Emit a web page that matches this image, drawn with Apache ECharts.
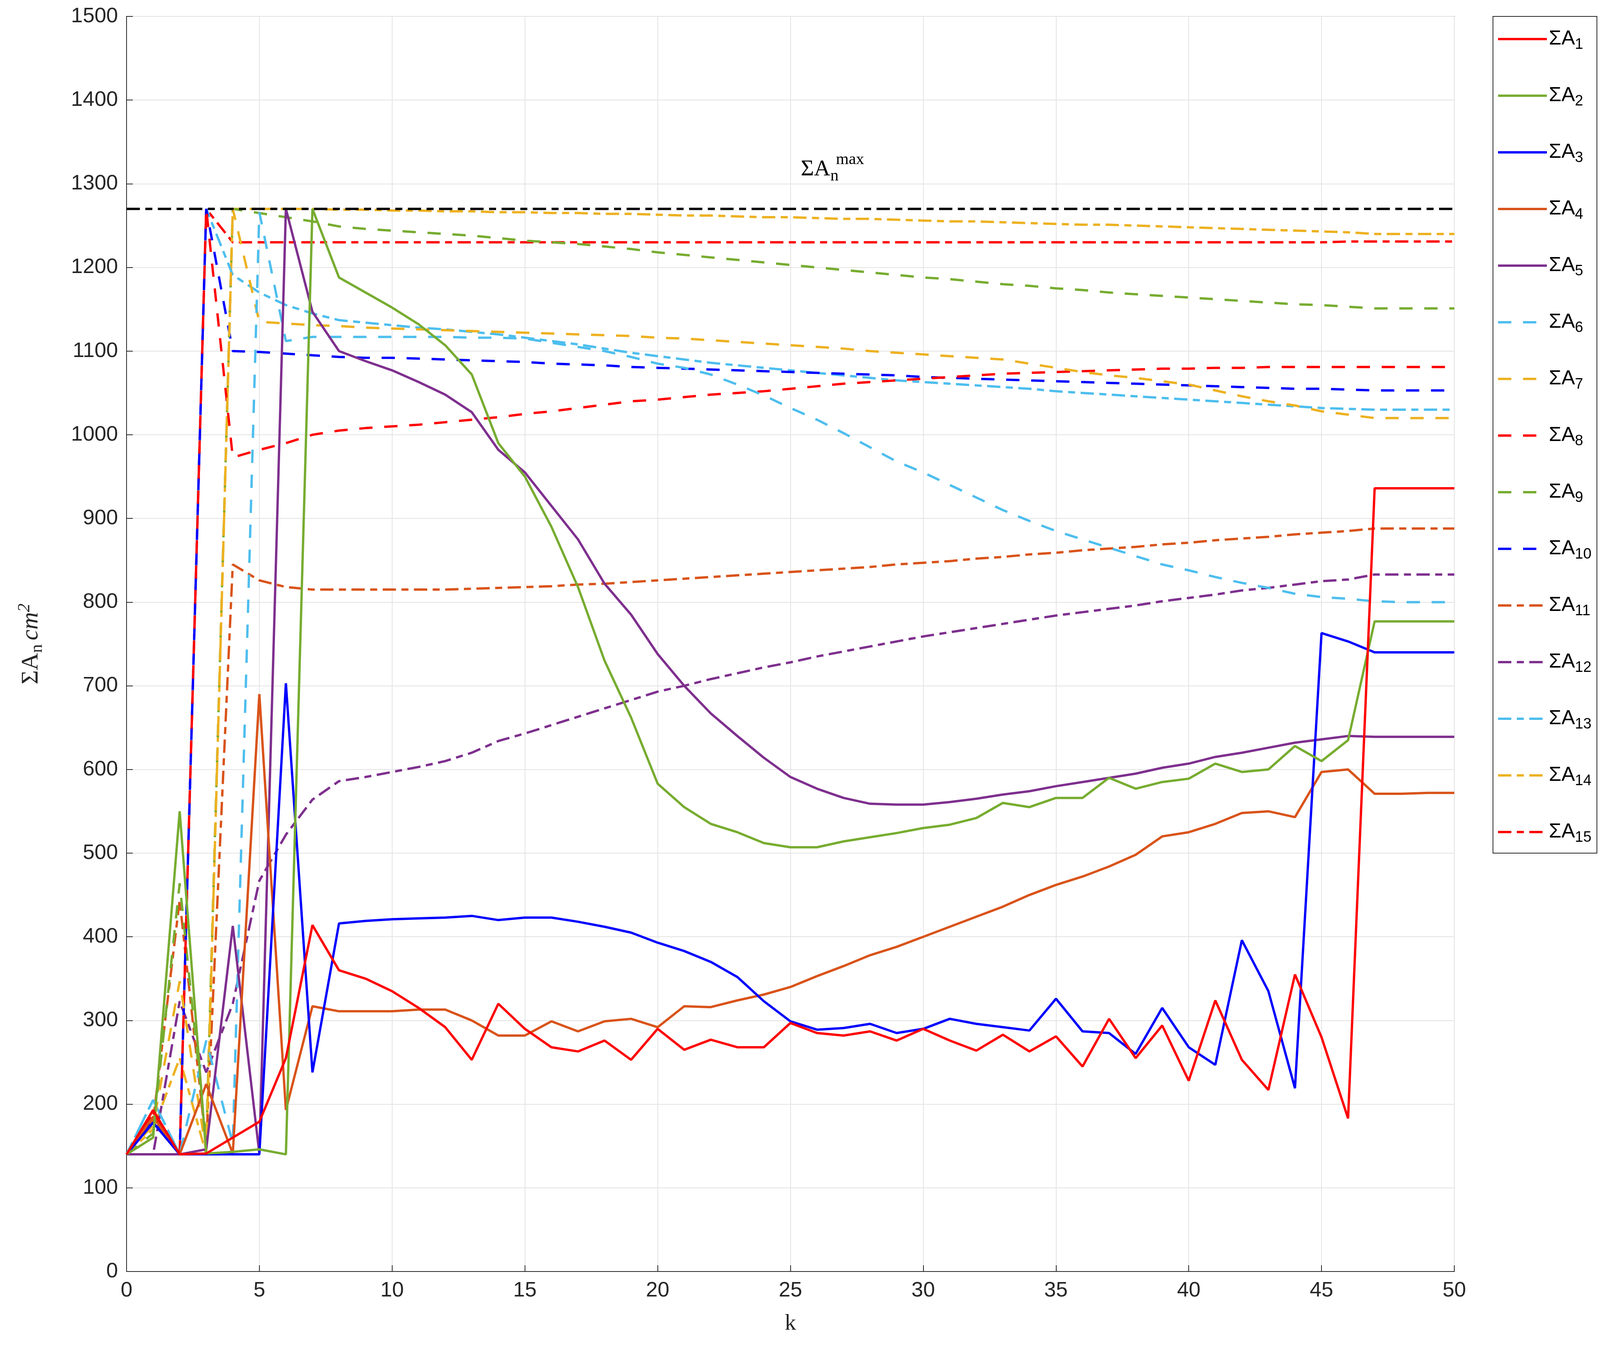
<!DOCTYPE html>
<html><head><meta charset="utf-8">
<script src="https://cdn.jsdelivr.net/npm/echarts@6/dist/echarts.min.js"></script>
<style>html,body{margin:0;padding:0;background:#fff}#c{width:4128px;height:3479px}</style>
</head><body><div id="c"></div>
<script>
const k = Array.from({length:51},(_,i)=>i);
const A1=[140,193,140,141,160,179,255,414,360,350,335,315,292,253,320,290,268,263,276,253,290,265,277,268,268,297,285,282,287,276,290,276,264,283,263,281,245,302,255,294,228,324,253,217,355,280,183,936,936,936,936];
const A2=[140,160,550,141,143,146,140,1270,1188,1170,1152,1132,1107,1072,990,950,890,818,730,662,583,555,535,525,512,507,507,514,519,524,530,534,542,560,555,566,566,590,577,585,589,607,597,600,628,610,635,777,777,777,777];
const A3=[140,178,140,140,140,140,703,238,416,419,421,422,423,425,420,423,423,418,412,405,393,383,370,352,323,299,289,291,296,285,290,302,296,292,288,326,287,285,260,315,268,247,396,335,219,763,753,740,740,740,740];
const A4=[140,185,140,224,141,690,193,317,311,311,311,313,313,300,282,282,299,287,299,302,292,317,316,324,331,340,353,365,378,388,400,412,424,436,450,462,472,484,498,520,525,535,548,550,543,597,600,571,571,572,572];
const A5=[140,140,140,146,413,141,1270,1147,1100,1088,1077,1063,1048,1027,982,955,915,875,822,785,738,700,667,640,614,591,577,566,559,558,558,561,565,570,574,580,585,590,595,602,607,615,620,626,632,636,640,639,639,639,639];
const A6=[140,205,140,276,153,1266,1112,1117,1117,1117,1117,1117,1117,1116,1116,1115,1110,1105,1100,1093,1085,1080,1072,1060,1047,1032,1018,1002,985,968,955,940,925,910,897,885,875,865,855,845,838,830,823,817,810,806,804,801,800,800,800];
const A7=[140,175,347,143,1270,1135,1133,1131,1130,1128,1127,1126,1125,1124,1123,1122,1121,1120,1119,1118,1116,1115,1113,1111,1109,1107,1105,1103,1100,1098,1096,1094,1092,1090,1085,1080,1075,1071,1068,1064,1060,1053,1046,1040,1035,1028,1024,1020,1020,1020,1020];
const A8=[140,190,140,1270,973,982,990,1000,1005,1008,1010,1012,1015,1018,1021,1025,1028,1032,1036,1040,1042,1045,1048,1050,1052,1055,1058,1061,1063,1065,1067,1069,1071,1073,1074,1075,1076,1077,1078,1079,1079,1080,1080,1081,1081,1081,1081,1081,1081,1081,1081];
const A9=[140,165,464,155,1270,1265,1260,1255,1249,1246,1244,1242,1240,1238,1235,1232,1230,1228,1225,1222,1218,1215,1212,1209,1206,1203,1200,1197,1194,1191,1188,1186,1183,1180,1178,1175,1173,1170,1168,1166,1164,1162,1160,1158,1156,1155,1153,1151,1151,1151,1151];
const A10=[140,180,140,1270,1100,1099,1097,1095,1093,1092,1092,1091,1090,1089,1088,1087,1085,1084,1083,1081,1080,1079,1078,1077,1076,1075,1074,1073,1072,1071,1069,1068,1067,1066,1065,1064,1063,1062,1061,1060,1059,1058,1057,1056,1055,1055,1054,1053,1053,1053,1053];
const A11=[140,180,444,150,845,826,818,815,815,815,815,815,815,816,817,818,819,821,822,824,826,828,830,832,834,836,838,840,842,845,847,849,852,854,857,859,862,864,866,869,871,874,876,878,881,883,885,888,888,888,888];
const A12=[140,140,323,238,320,467,522,564,586,591,597,603,610,620,634,643,653,663,673,683,693,700,708,715,722,728,735,741,747,753,759,764,769,774,779,784,788,792,796,801,805,809,814,817,821,825,827,833,833,833,833];
const A13=[140,205,140,1270,1191,1170,1155,1145,1137,1134,1131,1128,1126,1123,1120,1116,1112,1108,1103,1098,1094,1090,1086,1083,1080,1077,1074,1071,1068,1065,1063,1061,1059,1057,1055,1052,1050,1048,1046,1044,1042,1040,1038,1036,1034,1032,1031,1030,1030,1030,1030];
const A14=[140,170,255,140,1270,1270,1270,1270,1269,1269,1268,1268,1267,1267,1266,1266,1265,1265,1264,1264,1263,1262,1262,1261,1260,1260,1259,1258,1258,1257,1256,1255,1255,1254,1253,1252,1251,1251,1250,1249,1248,1247,1246,1245,1244,1243,1242,1240,1240,1240,1240];
const A15=[140,190,140,1270,1230,1230,1230,1230,1230,1230,1230,1230,1230,1230,1230,1230,1230,1230,1230,1230,1230,1230,1230,1230,1230,1230,1230,1230,1230,1230,1230,1230,1230,1230,1230,1230,1230,1230,1230,1230,1230,1230,1230,1230,1230,1230,1231,1231,1231,1231,1231];
const Amax=1270;
const yTicks=[0,100,200,300,400,500,600,700,800,900,1000,1100,1200,1300,1400,1500];

const all=[A1,A2,A3,A4,A5,A6,A7,A8,A9,A10,A11,A12,A13,A14,A15];
const colors=['#FF0000','#77AC30','#0000FF','#D95319','#7E2F8E','#4DBEEE','#EDB120','#FF0000','#77AC30','#0000FF','#D95319','#7E2F8E','#4DBEEE','#EDB120','#FF0000'];
const DASH=[34,30], DASHDOT=[34,14,18,14];
const series=all.map((d,i)=>({
  name:'ΣA'+(i+1), type:'line', symbol:'none', showSymbol:false, animation:false,
  data:d.map((v,j)=>[k[j],v]),
  lineStyle:{color:colors[i], width:6, type:i<5?'solid':(i<10?DASH:DASHDOT)},
  itemStyle:{color:colors[i]}, z:20-i
}));
series.push({name:'max',type:'line',symbol:'none',animation:false,data:k.map(x=>[x,Amax]),
  lineStyle:{color:'#000',width:6,type:DASHDOT},z:30});

const chart=echarts.init(document.getElementById('c'),null,{renderer:'canvas'});
const lab={fontFamily:'Liberation Sans',fontSize:54,color:'#262626'};
chart.setOption({
  backgroundColor:'#fff',
  animation:false,
  grid:{left:324,right:405,top:42,bottom:224,show:true,borderColor:'#262626',borderWidth:2,containLabel:false},
  xAxis:{type:'value',min:0,max:50,interval:5,
    name:'k',nameLocation:'middle',nameGap:105,nameTextStyle:{fontFamily:'Liberation Serif',fontSize:58,color:'#262626'},
    axisLine:{lineStyle:{color:'#262626',width:2}},axisTick:{inside:true,length:16,lineStyle:{color:'#262626',width:2}},
    axisLabel:{...lab,margin:22},splitLine:{show:true,lineStyle:{color:'#e3e3e3',width:2}}},
  yAxis:{type:'value',min:0,max:1500,interval:100,
    name:'{a|ΣA}{s|n}   {i|cm}{p|2}',nameLocation:'middle',nameGap:205,nameRotate:90,
    nameTextStyle:{rich:{a:{fontFamily:'Liberation Serif',fontSize:62,color:'#262626'},
      s:{fontFamily:'Liberation Serif',fontSize:44,color:'#262626',padding:[30,0,0,0]},
      i:{fontFamily:'Liberation Serif',fontStyle:'italic',fontSize:62,color:'#262626'},
      p:{fontFamily:'Liberation Serif',fontStyle:'italic',fontSize:44,color:'#262626',padding:[0,0,34,0]}}},
    axisLine:{show:true,lineStyle:{color:'#262626',width:2}},axisTick:{inside:true,length:16,lineStyle:{color:'#262626',width:2}},
    axisLabel:{...lab,margin:22,formatter:v=>yTicks.includes(v)?String(v):''},splitLine:{show:true,lineStyle:{color:'#e3e3e3',width:2}}},
  legend:{show:true,orient:'vertical',left:3822,top:42,
    data:all.map((_,i)=>'ΣA'+(i+1)),
    itemWidth:125,itemHeight:24,itemGap:77,
    itemStyle:{opacity:0},lineStyle:{width:6},
    backgroundColor:'#fff',borderColor:'#262626',borderWidth:2,padding:[24,14,20,10],
    formatter:n=>'{a|ΣA}{s|'+n.slice(2)+'}',
    textStyle:{rich:{a:{fontFamily:'Liberation Sans',fontSize:52,color:'#000',lineHeight:24},
      s:{fontFamily:'Liberation Sans',fontSize:38,color:'#000',padding:[30,0,0,0],lineHeight:24}}}},
  graphic:[{type:'text',left:2050,top:405,z:100,style:{
    text:'{a|ΣA}{s|n}',rich:{a:{fontFamily:'Liberation Serif',fontSize:58,fill:'#000'},
      s:{fontFamily:'Liberation Serif',fontSize:42,fill:'#000',padding:[34,0,0,0]}}}},
    {type:'text',left:2140,top:388,z:100,style:{text:'max',font:'42px "Liberation Serif"',fill:'#000'}}],
  series
});
</script></body></html>
